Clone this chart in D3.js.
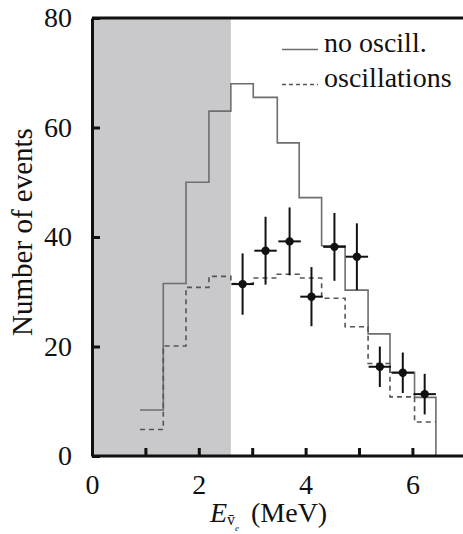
<!DOCTYPE html>
<html>
<head>
  <meta charset="UTF-8">
  <script src="https://d3js.org/d3.v7.min.js"></script>
</head>
<body style="margin:0">
  <svg id="chart" width="463" height="534"></svg>

  <script>
  // bin edges (MeV) and expected counts
  const binEdges = [0.9, 1.335, 1.76, 2.19, 2.6, 3.02, 3.47, 3.88, 4.3, 4.74, 5.17, 5.58, 6.04, 6.44];
  const noOscill = [8.4, 31.5, 50.0, 63.0, 68.0, 65.5, 57.2, 47.2, 38.4, 30.3, 22.3, 15.3, 10.7];
  const oscillations = [4.85, 20.1, 30.8, 32.8, 31.5, 32.5, 33.2, 32.5, 28.8, 23.6, 16.9, 10.8, 6.2];

  // measured points
  const dataX = [2.82, 3.25, 3.70, 4.11, 4.54, 4.96, 5.39, 5.82, 6.23];
  const dataY = [31.4, 37.5, 39.2, 29.1, 38.2, 36.4, 16.3, 15.2, 11.3];
  const dataYErr = [5.6, 6.2, 6.2, 5.4, 6.2, 6.1, 3.7, 3.7, 3.7];
  const dataXErr = [0.21, 0.21, 0.21, 0.21, 0.21, 0.21, 0.21, 0.21, 0.21];

  const cutoff = 2.6;
  const xTicks = [0, 1, 2, 3, 4, 5, 6];
  const yTicks = [0, 20, 40, 60, 80];

  const serif = "Liberation Serif";

  let svg = d3.select("#chart");
  let width = +svg.attr("width");

  let x = d3.scaleLinear().domain([0, 7]).range([92, 92 + 7 * 53.4]);
  let y = d3.scaleLinear().domain([0, 80]).range([456, 18]);

  // shaded threshold region
  svg.append("rect")
    .attr("x", x(0))
    .attr("y", y(80))
    .attr("width", x(cutoff) - x(0))
    .attr("height", y(0) - y(80))
    .attr("fill", "#c9c9cb");

  // histograms
  let stepLine = d3.line()
    .x(d => x(d[0]))
    .y(d => y(d[1]))
    .curve(d3.curveStepAfter);

  let solidPts = noOscill.map((v, i) => [binEdges[i], v]);
  solidPts.push([binEdges[binEdges.length - 1], noOscill[noOscill.length - 1]]);
  solidPts.push([binEdges[binEdges.length - 1], 0]);

  let dashPts = oscillations.map((v, i) => [binEdges[i], v]);
  dashPts.push([binEdges[binEdges.length - 1], oscillations[oscillations.length - 1]]);

  svg.append("path")
    .attr("d", stepLine(solidPts))
    .attr("fill", "none")
    .attr("stroke", "#6e6e6e")
    .attr("stroke-width", 1.6);

  svg.append("path")
    .attr("d", stepLine(dashPts))
    .attr("fill", "none")
    .attr("stroke", "#555")
    .attr("stroke-width", 1.6)
    .attr("stroke-dasharray", "5,4");

  // data with error bars
  let pts = dataX.map((d, i) => ({x: d, y: dataY[i], ey: dataYErr[i], ex: dataXErr[i]}));

  let err = svg.append("g").selectAll("g").data(pts).enter().append("g");
  err.append("line")
    .attr("x1", d => x(d.x)).attr("x2", d => x(d.x))
    .attr("y1", d => y(d.y - d.ey)).attr("y2", d => y(d.y + d.ey))
    .attr("stroke", "#111").attr("stroke-width", 2);
  err.append("line")
    .attr("x1", d => x(d.x - d.ex)).attr("x2", d => x(d.x + d.ex))
    .attr("y1", d => y(d.y)).attr("y2", d => y(d.y))
    .attr("stroke", "#111").attr("stroke-width", 2);
  err.append("circle")
    .attr("cx", d => x(d.x)).attr("cy", d => y(d.y))
    .attr("r", 4.2)
    .attr("fill", "#111");

  // axes
  let xAxis = d3.axisBottom(x)
    .tickValues(xTicks)
    .tickSize(-8)
    .tickSizeOuter(0)
    .tickPadding(18)
    .tickFormat(d => d % 2 === 0 ? d : "");

  let yAxis = d3.axisLeft(y)
    .tickValues(yTicks)
    .tickSize(-8)
    .tickSizeOuter(0)
    .tickPadding(20);

  let gx = svg.append("g")
    .attr("transform", "translate(0," + y(0) + ")")
    .call(xAxis);
  gx.select(".domain").attr("d", "M" + x(0) + ",0H" + width);

  let gy = svg.append("g")
    .attr("transform", "translate(" + x(0) + ",0)")
    .call(yAxis);

  [gx, gy].forEach(g => {
    g.attr("font-family", serif).attr("font-size", 28);
    g.selectAll("path, line").attr("stroke", "#111").attr("stroke-width", 3);
    g.selectAll("text").attr("fill", "#111");
  });

  // top frame line
  svg.append("line")
    .attr("x1", x(0)).attr("x2", width)
    .attr("y1", y(80)).attr("y2", y(80))
    .attr("stroke", "#111").attr("stroke-width", 3);

  // axis titles
  svg.append("text")
    .attr("transform", "translate(32,232) rotate(-90)")
    .attr("text-anchor", "middle")
    .attr("font-family", serif)
    .attr("font-size", 29)
    .attr("fill", "#111")
    .text("Number of events");

  let xl = svg.append("text")
    .attr("x", 210)
    .attr("y", 522)
    .attr("font-family", serif)
    .attr("font-size", 28)
    .attr("fill", "#111");
  xl.append("tspan").attr("font-style", "italic").text("E");
  xl.append("tspan").attr("dy", 3).attr("font-size", 16).text("v\u0304");
  xl.append("tspan").attr("dy", 6).attr("font-size", 9).attr("font-style", "italic").text("e");
  xl.append("tspan").attr("dy", -9).attr("x", 251).text("(MeV)");

  // legend
  let legend = svg.append("g");
  legend.append("line")
    .attr("x1", 282).attr("x2", 318).attr("y1", 49.5).attr("y2", 49.5)
    .attr("stroke", "#6e6e6e").attr("stroke-width", 1.6);
  legend.append("text")
    .attr("x", 324).attr("y", 52)
    .attr("font-family", serif)
    .attr("font-size", 28)
    .attr("fill", "#111")
    .text("no oscill.");
  legend.append("line")
    .attr("x1", 282).attr("x2", 318).attr("y1", 84.5).attr("y2", 84.5)
    .attr("stroke", "#555").attr("stroke-width", 1.6)
    .attr("stroke-dasharray", "4,3");
  legend.append("text")
    .attr("x", 324).attr("y", 87)
    .attr("font-family", serif)
    .attr("font-size", 28)
    .attr("fill", "#111")
    .text("oscillations");
  </script>
</body>
</html>
